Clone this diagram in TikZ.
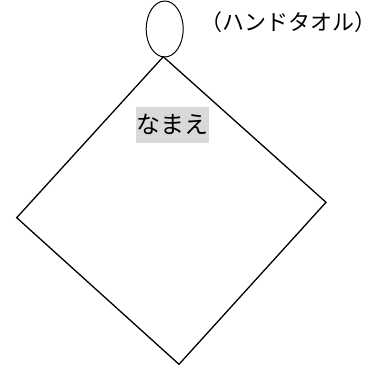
\documentclass[tikz,border=0pt]{standalone}
\usepackage{fontspec}
\newfontfamily\cjk{Noto Sans CJK JP}
\usetikzlibrary{shapes.geometric}
\begin{document}
\begin{tikzpicture}[x=1pt,y=-1pt,
  outline/.style={draw=black,line width=1.3pt,line join=miter},
  label/.style={font=\cjk\fontsize{22}{24}\selectfont,inner sep=0pt}]
\useasboundingbox (0,0) rectangle (379,369);
\node[outline,ellipse,minimum width=37,minimum height=56,inner sep=0pt,line width=1pt] (loop) at (164.7,29) {};
\coordinate (t) at (163.3,56.7);
\coordinate (l) at (16.7,217.7);
\coordinate (r) at (326,202.3);
\coordinate (b) at (179,364.3);
\draw[outline] (t) -- (r) -- (b) -- (l) -- cycle;
\node[label,anchor=center] (towel) at (288.5,22.5) {（ハンドタオル）};
\node[label,font=\cjk\fontsize{24}{26}\selectfont,fill=black!15,minimum width=73,minimum height=36] (name) at (172.4,124.7) {なまえ};
\end{tikzpicture}
\end{document}
